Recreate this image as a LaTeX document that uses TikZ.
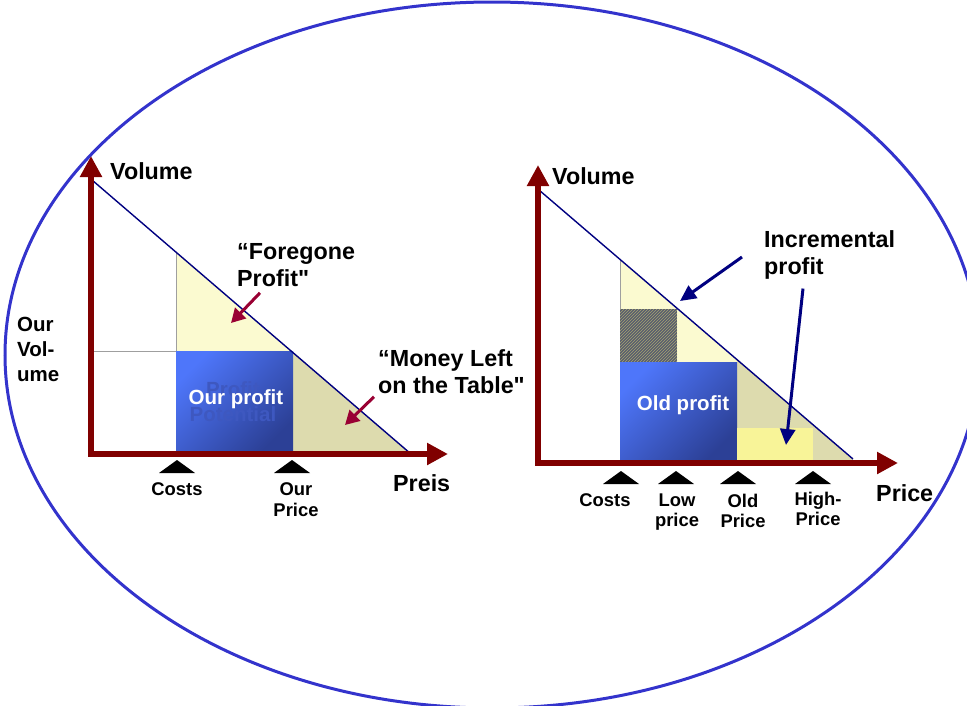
\documentclass[tikz,border=0pt]{standalone}
\usepackage{fontspec}
\setmainfont{Liberation Sans}[Ligatures=TeXOff]
\usepackage{xcolor}
\usetikzlibrary{arrows.meta,positioning,calc,patterns}

\definecolor{axisred}{RGB}{128,0,0}
\definecolor{demandblue}{RGB}{0,0,128}
\definecolor{ringblue}{RGB}{51,51,204}
\definecolor{callred}{RGB}{153,0,51}
\definecolor{paleyellow}{RGB}{251,250,208}
\definecolor{khaki}{RGB}{221,219,174}
\definecolor{lightblue}{RGB}{78,118,250}
\definecolor{deepblue}{RGB}{44,64,150}
\definecolor{ghostblue}{RGB}{62,88,192}
\definecolor{hatchgray}{RGB}{88,92,110}
\definecolor{hatchyellow}{RGB}{165,165,112}
\definecolor{extrayellow}{RGB}{248,244,152}

\begin{document}
\begin{tikzpicture}[
    x=1pt, y=-1pt,
    font=\bfseries,
    axis/.style={draw=axisred, line width=5.5pt, line join=miter,
                 {Triangle[length=21pt,width=21pt]}-{Triangle[length=21pt,width=21pt]}},
    demand/.style={draw=demandblue, line width=1.4pt},
    guide/.style={draw=gray!75, line width=0.8pt},
    ring/.style={draw=ringblue, line width=3pt},
    profit/.style={top color=lightblue, bottom color=deepblue, shading angle=45},
    big/.style={font=\fontsize{23.3}{27}\selectfont\bfseries, inner sep=0pt, align=left},
    mid/.style={font=\fontsize{20.5}{25}\selectfont\bfseries, inner sep=0pt},
    small/.style={font=\fontsize{18.4}{20.5}\selectfont\bfseries, inner sep=0pt, align=center},
    redcall/.style={draw=callred, line width=3pt, -{Triangle[length=14pt,width=15pt]}},
    bluecall/.style={draw=demandblue, line width=3pt, -{Triangle[length=16pt,width=15pt]}},
    ticktri/.style={fill=black},
    ]
\useasboundingbox (0,0) rectangle (967,705);

% outer ring
\begin{scope}
  \clip (0,0) rectangle (967,705);
  \draw[ring] (492,355) ellipse [x radius=487pt, y radius=353pt];
\end{scope}

%% left chart: single price
\coordinate (o1) at (91,454);
\coordinate (ytip1) at (91,156);
\coordinate (xtip1) at (448,454);

\fill[paleyellow] (176,252) -- (293,352) -- (176,352) -- cycle;
\fill[khaki] (293,352) -- (411,454) -- (293,454) -- cycle;
\shade[profit] (176,351) rectangle (293,452);
\draw[guide] (91,351) -- (176,351) (176,252) -- (176,351);
\draw[demand] (92,180) -- (411,454);
\draw[axis] (ytip1) -- (o1) -- (xtip1);

\node[mid, text=ghostblue, align=center] (potential) at (233,401.5) {Profit\\Potential};
\node[mid, text=white] (ourprofit) at (236,399.5) {Our profit};

\node[big, anchor=west] (vol1) at (110,171.5) {Volume};
\node[big, anchor=west] (preis) at (393,483.5) {Preis};
\node[mid, anchor=west, align=left] (ourvol) at (17,349.5) {Our\\Vol-\\ume};
\node[big, anchor=west] (foregone) at (237,265) {“Foregone\\Profit"};
\node[big, anchor=west] (money) at (378,371.5) {“Money Left\\on the Table"};

\coordinate (foretip) at (231,323);
\coordinate (moneytip) at (345,425);
\draw[redcall] ([xshift=23pt,yshift=-6pt]foregone.south west) -- (foretip);
\draw[redcall] ([xshift=-4pt,yshift=-3pt]money.south west) -- (moneytip);

\foreach \tx in {177,292}
  \fill[ticktri] (\tx-18,473) -- (\tx,460) -- (\tx+18,473) -- cycle;
\node[small] (costs1) at (177,489) {Costs};
\node[small] (ourprice) at (296,499.5) {Our\\Price};

%% right chart: two prices
\coordinate (o2) at (538,463);
\coordinate (ytip2) at (538,165);
\coordinate (xtip2) at (898,463);

\fill[paleyellow] (620,259.4) -- (737,359.7) -- (737,362) -- (620,362) -- cycle;
\fill[khaki] (737,359.7) -- (853,459) -- (853,463) -- (737,463) -- cycle;
\path[preaction={fill=hatchgray}, pattern=north east lines, pattern color=hatchyellow]
  (620,309) rectangle (677,362);
\shade[profit] (620,362) rectangle (737,461);
\fill[extrayellow] (737,428) rectangle (813,461);
\draw[guide] (620,259.4) -- (620,309);
\draw[demand] (539,190) -- (853,459);
\draw[axis] (ytip2) -- (o2) -- (xtip2);

\node[mid, text=white] (oldprofit) at (683,405) {Old profit};

\node[big, anchor=west] (vol2) at (552,176.5) {Volume};
\node[big, anchor=west] (price) at (876,493) {Price};
\node[big, anchor=west] (incr) at (764,255) {Incremental\\profit};

\coordinate (lowtip) at (680,301);
\coordinate (hightip) at (786,445);
\draw[bluecall] ([xshift=-22pt,yshift=-2pt]incr.west) -- (lowtip);
\draw[bluecall] ([xshift=39pt,yshift=-9pt]incr.south west) -- (hightip);

\foreach \tx in {621,676,738,813}
  \fill[ticktri] (\tx-18,484) -- (\tx,471) -- (\tx+18,484) -- cycle;
\node[small] (costs2) at (605,500.5) {Costs};
\node[small] (lowprice) at (677,512) {Low\\price};
\node[small] (oldprice) at (743,511) {Old\\Price};
\node[small] (highprice) at (818,509) {High-\\Price};
\end{tikzpicture}
\end{document}
